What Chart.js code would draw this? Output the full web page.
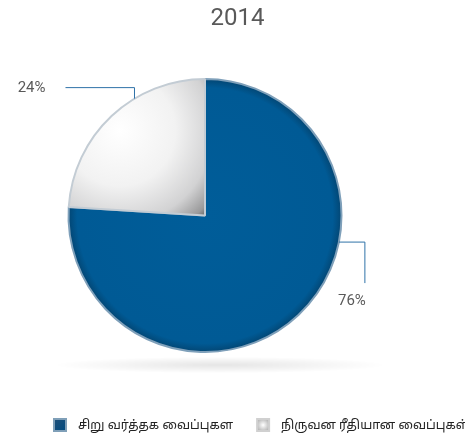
<!DOCTYPE html>
<html>
<head>
<meta charset="utf-8">
<script src="https://cdn.jsdelivr.net/npm/chart.js@4/dist/chart.umd.min.js"></script>
<style>
html, body { margin: 0; padding: 0; background: #fff; }
#wrap { width: 465px; height: 439px; position: relative; }
</style>
</head>
<body>
<div id="wrap"><canvas id="pie"></canvas></div>
<script>
const chartTitle = '2014';
const categories = ['சிறு வர்த்தக வைப்புகள', 'நிருவன ரீதியான வைப்புகள்'];
const shares = [76, 24];
const valueLabels = ['76%', '24%'];

// where each callout leaves its slice (fraction of the slice angle)
const calloutAt = [0.37, 0.64];
const tamilFont = '"Noto Sans Tamil", "Noto Serif Tamil", "Lohit Tamil", Latha, "FreeSerif", "Noto Sans", sans-serif';

function sliceFill(context) {
    const chart = context.chart;
    const area = chart.chartArea;
    if (!area) return '#005b96';
    const cx = (area.left + area.right) / 2;
    const cy = (area.top + area.bottom) / 2;
    const r = Math.min(area.right - area.left, area.bottom - area.top) / 2;
    const ctx = chart.ctx;
    if (context.dataIndex === 0) {
        const g = ctx.createRadialGradient(cx, cy, 0, cx, cy, r);
        g.addColorStop(0, '#005d99');
        g.addColorStop(0.93, '#005a95');
        g.addColorStop(1, '#034470');
        return g;
    }
    const gx = cx - r * 0.62, gy = cy - r * 0.62;
    const g = ctx.createRadialGradient(gx, gy, 0, gx, gy, r * 0.9);
    g.addColorStop(0, '#ffffff');
    g.addColorStop(0.45, '#f2f2f2');
    g.addColorStop(0.75, '#d2d2d3');
    g.addColorStop(0.92, '#9a9a9b');
    g.addColorStop(1, '#525252');
    return g;
}

const decorations = {
    id: 'decorations',
    beforeDatasetsDraw(chart) {
        const arc = chart.getDatasetMeta(0).data[0];
        const ctx = chart.ctx;
        ctx.save();
        ctx.translate(arc.x + 15, arc.y + arc.outerRadius + 13);
        ctx.scale(1, 0.05);
        const g = ctx.createRadialGradient(0, 0, 0, 0, 0, 165);
        g.addColorStop(0, 'rgba(0,0,0,0.10)');
        g.addColorStop(1, 'rgba(0,0,0,0)');
        ctx.fillStyle = g;
        ctx.beginPath();
        ctx.arc(0, 0, 165, 0, Math.PI * 2);
        ctx.fill();
        ctx.restore();
    },
    afterDraw(chart) {
        const ctx = chart.ctx;
        const arcs = chart.getDatasetMeta(0).data;
        ctx.save();

        // title
        ctx.fillStyle = '#595959';
        ctx.font = '24px Roboto, sans-serif';
        ctx.textAlign = 'center';
        ctx.textBaseline = 'middle';
        ctx.fillText(chartTitle, chart.width / 2 + 5, 19);

        ctx.strokeStyle = '#2f72a8';
        ctx.lineWidth = 1;
        ctx.font = '15px Roboto, sans-serif';
        arcs.forEach((arc, i) => {
            const a = arc.startAngle + (arc.endAngle - arc.startAngle) * calloutAt[i];
            const px = arc.x + Math.cos(a) * arc.outerRadius;
            const py = arc.y + Math.sin(a) * arc.outerRadius;
            ctx.beginPath();
            if (i === 0) {
                ctx.moveTo(px, py);
                ctx.lineTo(px + 26, py);
                ctx.lineTo(px + 26, py + 41);
                ctx.stroke();
                ctx.textAlign = 'center';
                ctx.fillText(valueLabels[i], px + 13, py + 59);
            } else {
                ctx.moveTo(px, py);
                ctx.lineTo(px, py - 11);
                ctx.lineTo(px - 69, py - 11);
                ctx.stroke();
                ctx.textAlign = 'right';
                ctx.fillText(valueLabels[i], px - 89, py - 10);
            }
        });

        // legend
        ctx.font = '12.5px ' + tamilFont;
        ctx.textAlign = 'left';
        const ly = 425;
        let lx = 54;
        categories.forEach((name, i) => {
            let g;
            if (i === 0) {
                g = ctx.createLinearGradient(lx, ly - 6, lx + 12, ly + 6);
                g.addColorStop(0, '#1e4f78');
                g.addColorStop(1, '#004a80');
                ctx.fillStyle = '#7f9fb8';
            } else {
                g = ctx.createRadialGradient(lx + 6, ly, 0, lx + 6, ly, 8);
                g.addColorStop(0, '#ffffff');
                g.addColorStop(1, '#a8a8a8');
                ctx.fillStyle = '#d0d0d0';
            }
            ctx.fillRect(lx - 1, ly - 7, 14, 14);
            ctx.fillStyle = g;
            ctx.fillRect(lx + 1, ly - 5, 10, 10);
            ctx.fillStyle = '#222';
            ctx.fillText(name, lx + 24, ly + 1);
            lx += 24 + ctx.measureText(name).width + 24;
        });
        ctx.restore();
    }
};

new Chart(document.getElementById('pie'), {
    type: 'pie',
    data: {
        labels: categories,
        datasets: [{
            data: shares,
            backgroundColor: sliceFill,
            borderColor: ['#7fa0ba', '#c3ccd4'],
            borderWidth: 2,
            hoverOffset: 0
        }]
    },
    options: {
        responsive: true,
        maintainAspectRatio: false,
        animation: false,
        events: [],
        layout: {
            padding: { left: 60, right: 115, top: 78, bottom: 86 }
        },
        plugins: {
            legend: { display: false },
            tooltip: { enabled: false },
            title: { display: false }
        }
    },
    plugins: [decorations]
});
</script>
</body>
</html>
